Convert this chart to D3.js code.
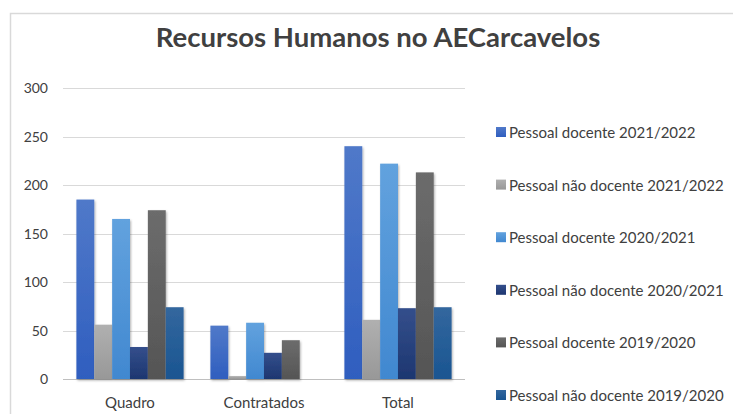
<!DOCTYPE html>
<html lang="pt">
<head>
<meta charset="UTF-8">
<script src="https://d3js.org/d3.v7.min.js"></script>
<style>
  body { margin: 0; background: #fff; }
  text { font-family: Lato, "Open Sans", sans-serif; }
</style>
</head>
<body>
<div id="chart"></div>
<script>
    // categories and series
    const categories = ["Quadro", "Contratados", "Total"]
    const series = [
        "Pessoal docente 2021/2022",
        "Pessoal não docente 2021/2022",
        "Pessoal docente 2020/2021",
        "Pessoal não docente 2020/2021",
        "Pessoal docente 2019/2020",
        "Pessoal não docente 2019/2020"
    ]
    const docente2122 = [185, 55, 240]
    const naoDocente2122 = [56, 3, 61]
    const docente2021 = [165, 58, 222]
    const naoDocente2021 = [33, 27, 73]
    const docente1920 = [174, 40, 213]
    const naoDocente1920 = [74, 0, 74]
    const yTicks = [0, 50, 100, 150, 200, 250, 300]

    const values = [docente2122, naoDocente2122, docente2021, naoDocente2021, docente1920, naoDocente1920]
    const colors = [
        ["#5079c9", "#2f5ebf"],
        ["#b0b0b0", "#989898"],
        ["#62a2de", "#4188d0"],
        ["#344f8c", "#1d3670"],
        ["#6c6c6c", "#555555"],
        ["#33679e", "#1a5591"]
    ]

    const width = 733
    const height = 414

    const svg = d3.select("#chart")
        .append("svg")
        .attr("width", width)
        .attr("height", height)

    // chart border
    svg.append("rect")
        .attr("x", 10.5).attr("y", 13.5)
        .attr("width", 740).attr("height", 420)
        .attr("fill", "none")
        .attr("stroke", "#d9d9d9")
        .attr("stroke-width", 1.5)

    // title
    svg.append("text")
        .attr("x", 378).attr("y", 47)
        .attr("text-anchor", "middle")
        .attr("font-size", 27.5)
        .attr("font-weight", "bold")
        .attr("fill", "#404040")
        .text("Recursos Humanos no AECarcavelos")

    const x0 = d3.scaleBand()
        .domain(categories)
        .range([63, 465])
        .paddingInner(0.2)
        .paddingOuter(0.1)

    const x1 = d3.scaleBand()
        .domain(d3.range(series.length))
        .range([0, x0.bandwidth()])

    const y = d3.scaleLinear()
        .domain([0, 300])
        .range([379, 88])

    const defs = svg.append("defs")
    colors.forEach((c, i) => {
        const g = defs.append("linearGradient")
            .attr("id", "grad" + i)
            .attr("x1", 0).attr("y1", 0).attr("x2", 0).attr("y2", 1)
        g.append("stop").attr("offset", "0%").attr("stop-color", c[0])
        g.append("stop").attr("offset", "100%").attr("stop-color", c[1])
    })
    const shadow = defs.append("filter").attr("id", "shadow")
        .attr("x", "-20%").attr("y", "-5%").attr("width", "140%").attr("height", "115%")
    shadow.append("feDropShadow")
        .attr("dx", 1).attr("dy", 1.5).attr("stdDeviation", 1)
        .attr("flood-color", "#000").attr("flood-opacity", 0.3)

    // gridlines
    svg.append("g")
        .selectAll("line")
        .data(yTicks)
        .join("line")
        .attr("x1", 63).attr("x2", 465)
        .attr("y1", d => Math.round(y(d)) + 0.5)
        .attr("y2", d => Math.round(y(d)) + 0.5)
        .attr("stroke", d => d === 0 ? "#bfbfbf" : "#d9d9d9")
        .attr("stroke-width", 1.2)

    // y labels
    svg.append("g")
        .selectAll("text")
        .data(yTicks)
        .join("text")
        .attr("x", 48)
        .attr("y", d => y(d) + 5)
        .attr("text-anchor", "end")
        .attr("font-size", 14)
        .attr("fill", "#404040")
        .text(d => d)

    // bars
    const groups = svg.append("g")
        .selectAll("g")
        .data(categories)
        .join("g")
        .attr("transform", d => `translate(${x0(d)},0)`)

    groups.selectAll("rect")
        .data((d, ci) => values.map((v, si) => ({ si: si, v: v[ci] })))
        .join("rect")
        .attr("x", d => x1(d.si))
        .attr("width", x1.bandwidth())
        .attr("y", d => y(d.v))
        .attr("height", d => y(0) - y(d.v))
        .attr("fill", d => `url(#grad${d.si})`)
        .attr("filter", "url(#shadow)")

    // category labels
    svg.append("g")
        .selectAll("text")
        .data(categories)
        .join("text")
        .attr("x", d => x0(d) + x0.bandwidth() / 2)
        .attr("y", 408)
        .attr("text-anchor", "middle")
        .attr("font-size", 15)
        .attr("fill", "#404040")
        .text(d => d)

    // legend
    const legend = svg.append("g")
        .selectAll("g")
        .data(series)
        .join("g")
        .attr("transform", (d, i) => `translate(496,${133 + i * 52.6})`)

    legend.append("rect")
        .attr("x", 0).attr("y", -6)
        .attr("width", 10).attr("height", 10)
        .attr("fill", (d, i) => `url(#grad${i})`)

    legend.append("text")
        .attr("x", 13).attr("y", 5)
        .attr("font-size", 15)
        .attr("fill", "#404040")
        .text(d => d)
</script>
</body>
</html>
